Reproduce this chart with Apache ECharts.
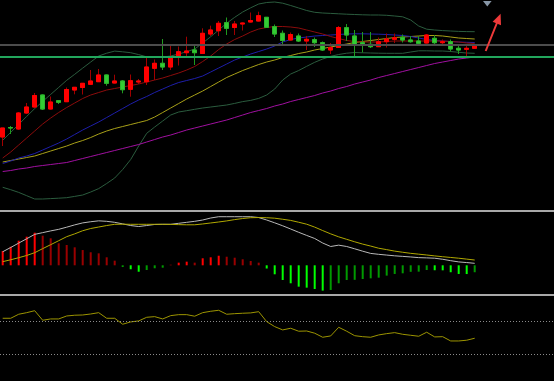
<!DOCTYPE html>
<html><head><meta charset="utf-8">
<script src="https://cdn.jsdelivr.net/npm/echarts@6/dist/echarts.min.js"></script>
<style>html,body{margin:0;padding:0;background:#000;overflow:hidden;}#c{width:554px;height:381px;}</style>
</head><body><div id="c"></div>
<script>
// ---- price panel (candles) ----
const opens = [16.30,17.25,17.10,18.70,19.30,20.50,19.10,19.93,19.83,21.00, 21.25,21.57,21.83,22.50,21.70,21.90,21.07,21.80,21.83,23.17, 23.67,23.30,24.33,24.73,25.00,24.65,26.60,26.93,27.73,27.25, 27.60,27.80,27.90,28.27,27.33,26.67,26.00,26.40,25.90,26.03, 25.73,25.00,25.25,27.23,26.40,25.73,25.57,25.33,25.83,26.07, 26.27,26.00,25.90,25.70,26.17,25.73,25.83,25.17,25.07,25.17];
const closes = [17.20,17.20,18.70,19.30,20.45,19.10,19.80,19.77,21.05,21.27, 21.67,21.90,22.50,21.67,21.90,21.03,21.93,21.90,23.30,23.67, 23.30,24.25,24.83,24.90,24.73,26.67,27.00,27.67,27.17,27.60, 27.70,27.95,28.43,27.27,26.60,25.95,26.55,25.90,26.07,25.73, 25.00,25.25,27.25,26.50,25.50,25.45,25.33,25.83,26.10,26.23, 26.00,25.83,25.67,26.50,25.73,25.83,25.10,25.00,25.17,25.50];
const lows = [15.40,16.60,17.00,18.60,19.25,19.00,19.05,19.60,19.80,20.57, 20.55,21.50,21.80,21.43,21.65,20.67,20.33,21.60,21.50,22.00, 23.00,23.00,23.45,24.20,23.50,24.60,26.40,26.40,26.50,26.50, 26.95,27.75,27.85,27.25,26.30,25.45,25.95,25.80,25.00,25.30, 24.90,24.60,25.20,25.90,24.20,24.75,25.20,25.30,25.25,25.70, 25.75,25.73,25.65,25.65,25.45,25.50,24.85,24.60,24.33,25.15];
const highs = [17.20,17.40,18.80,19.70,20.70,20.55,20.35,19.95,21.25,21.30, 21.70,23.00,23.10,22.55,22.53,22.00,22.55,22.10,24.20,24.05, 26.10,25.43,25.35,26.33,25.43,27.17,27.43,27.90,28.25,27.90, 27.75,28.75,28.83,28.30,27.55,26.95,26.75,26.65,26.40,26.25, 25.85,25.70,27.40,27.60,27.00,26.80,26.80,26.25,26.65,26.65, 26.55,26.40,26.40,26.60,26.50,26.05,26.05,25.50,25.50,25.55];

const bollUp = [15.97,16.76,17.56,18.36,19.14,19.86,20.56,21.26,21.97,22.57, 23.19,23.80,24.40,24.68,24.89,24.82,24.73,24.54,24.31,24.30, 24.30,24.40,24.60,24.83,25.10,25.70,26.33,27.00,27.68,28.27, 28.80,29.22,29.60,29.75,29.80,29.68,29.45,29.20,28.95,28.77, 28.70,28.66,28.62,28.58,28.55,28.52,28.50,28.50,28.47,28.40, 28.32,28.00,27.40,27.08,27.00,26.94,26.90,26.86,26.84,26.83];
const bollMid = [13.65,13.90,14.20,14.40,14.65,15.00,15.35,15.70,16.10,16.55, 17.00,17.40,17.80,18.25,18.70,19.15,19.60,20.00,20.35,20.75, 21.10,21.45,21.75,21.95,22.15,22.40,22.80,23.20,23.60,24.00, 24.30,24.60,24.85,25.10,25.40,25.80,26.05,26.20,26.30,26.40, 26.45,26.50,26.55,26.60,26.62,26.62,26.60,26.58,26.55,26.50, 26.45,26.35,26.20,26.05,25.95,25.90,25.85,25.80,25.77,25.75];
const bollLow = [11.27,11.03,10.76,10.43,10.10,10.10,10.14,10.18,10.23,10.36, 10.50,10.80,11.14,11.65,12.20,13.05,14.05,15.40,16.67,17.30, 17.90,18.50,18.80,18.93,19.07,19.20,19.30,19.40,19.50,19.66, 19.84,19.96,20.16,20.50,21.10,22.00,22.60,22.95,23.37,23.77, 24.10,24.37,24.55,24.68,24.75,24.72,24.70,24.68,24.67,24.67, 24.67,24.80,24.92,24.92,24.90,24.90,24.85,24.77,24.70,24.67];
const ma10 = [14.20,14.80,15.50,16.20,16.90,17.60,18.20,18.75,19.25,19.70, 20.15,20.50,20.75,21.00,21.15,21.30,21.45,21.60,21.80,22.00, 22.20,22.45,22.70,23.00,23.35,23.85,24.40,25.05,25.60,26.05, 26.40,26.80,27.10,27.25,27.35,27.35,27.30,27.20,27.00,26.80, 26.60,26.35,26.15,25.95,25.85,25.80,25.80,25.80,25.85,25.90, 25.90,25.90,25.90,25.90,25.90,25.90,25.85,25.80,25.70,25.65];
const ma30 = [13.80,13.95,14.10,14.25,14.40,14.65,14.90,15.15,15.40,15.70, 15.95,16.25,16.60,16.90,17.15,17.35,17.55,17.75,17.95,18.30, 18.75,19.20,19.65,20.10,20.50,20.90,21.35,21.80,22.25,22.60, 22.95,23.25,23.55,23.80,24.00,24.25,24.45,24.65,24.80,25.00, 25.15,25.30,25.45,25.60,25.75,25.85,25.95,26.05,26.15,26.25, 26.30,26.35,26.40,26.45,26.45,26.40,26.30,26.20,26.15,26.10];
const ma60 = [12.85,12.95,13.10,13.20,13.35,13.45,13.55,13.65,13.75,13.95, 14.15,14.35,14.55,14.75,14.95,15.15,15.35,15.55,15.80,16.05, 16.30,16.50,16.75,17.00,17.20,17.40,17.60,17.80,18.00,18.25, 18.50,18.75,18.95,19.15,19.40,19.60,19.85,20.05,20.25,20.45, 20.70,20.90,21.15,21.35,21.60,21.80,22.00,22.25,22.45,22.65, 22.85,23.05,23.25,23.45,23.65,23.80,23.95,24.10,24.20,24.30];
const grayLevel = 25.57;
const greenLevel = 24.33;

// ---- MACD panel ----
const macdHist = [17.3,22.5,29.8,34.7,39.5,35.9,32.7,26.7,24.6,21.8, 18.5,15.8,14.5,9.7,5.6,-2.1,-4.8,-7.8,-5.7,-3.6, -2.9,0.7,3.2,4.4,3.2,8.5,9.7,11.6,10.4,9.2, 7.3,5.2,3.2,-3.9,-10.9,-17.8,-21.8,-25.9,-27.1,-28.7, -30.7,-29.9,-21.8,-17.8,-17.6,-16.6,-15.8,-15.0,-12.5,-10.5, -9.7,-7.9,-7.7,-5.7,-6.0,-6.1,-8.4,-10.5,-10.6,-8.4];
const macdDif = [16.4,21.6,26.9,32.2,37.5,39.6,41.7,43.6,46.2,49.0, 51.4,52.8,53.9,53.3,52.1,50.2,48.2,47.0,48.2,49.5, 49.7,49.7,50.9,52.1,53.3,54.9,57.3,58.9,58.9,58.9, 58.9,58.9,57.9,54.9,51.5,47.9,44.0,40.0,36.2,32.5, 27.0,22.8,24.4,22.8,20.0,17.1,14.4,13.3,12.4,11.5, 10.8,10.1,9.3,9.0,8.6,7.3,5.6,4.1,3.3,2.4];
const macdDea = [4.4,6.7,9.2,11.9,15.3,20.2,25.0,29.8,34.7,38.1, 41.9,44.6,46.4,48.2,49.7,49.8,49.7,49.7,49.7,49.7, 49.7,49.6,49.3,49.1,49.1,50.1,51.3,52.5,53.8,55.4, 56.7,57.7,57.9,57.7,57.1,55.8,54.4,52.2,49.8,46.3, 42.1,38.1,34.5,31.5,28.5,25.7,23.3,20.7,19.0,17.2, 15.8,14.5,13.5,12.5,11.4,10.4,9.5,8.6,7.5,6.4];

// ---- lower oscillator panel ----
const rsi = [73.6,73.6,78.5,80.4,82.8,71.2,72.8,72.8,76.4,77.3, 77.6,78.8,80.4,73.6,73.6,66.4,69.2,70.4,74.8,75.6, 72.8,76.8,78.0,78.0,76.1,80.4,82.1,83.3,78.5,79.2, 79.7,80.1,81.6,69.5,63.5,59.5,61.5,57.9,58.2,55.5, 50.6,52.2,62.7,57.9,52.5,51.3,50.6,53.4,55.0,56.2, 54.2,53.0,51.8,56.7,51.0,51.3,46.1,46.1,47.0,49.4];
const rsiLevels = [70, 30];

// ---- build ----
const xy = arr => arr.map((v, i) => [i, v]);
const candleData = opens.map((o, i) => [i, o, closes[i], lows[i], highs[i]]);
const bodyData = opens.map((o, i) => [i, o, closes[i], Math.min(o, closes[i]), Math.max(o, closes[i])]);
const histData = macdHist.map((v, i) => {
  const grow = i === 0 || Math.abs(v) > Math.abs(macdHist[i - 1]);
  const color = v >= 0 ? (grow ? '#ff0000' : '#9a0000') : (grow ? '#00ff00' : '#009a00');
  return { value: [i, v], itemStyle: { color } };
});

const XMIN = -0.3375, XMAX = 68.9125;
const xAxes = [0, 1, 2].map(g => ({ type: 'value', gridIndex: g, min: XMIN, max: XMAX, show: false }));
const line = (name, data, color, g, w, z) => ({
  name, type: 'line', data: xy(data), xAxisIndex: g, yAxisIndex: g, showSymbol: false, symbol: 'none',
  lineStyle: { color, width: w || 1 }, z: z || 2, silent: true
});

const chart = echarts.init(document.getElementById('c'), null, { renderer: 'canvas' });
chart.setOption({
  animation: false,
  backgroundColor: '#000000',
  grid: [
    { left: 0, right: 0, top: 0, height: 210 },
    { left: 0, right: 0, top: 212.5, height: 82.5 },
    { left: 0, right: 0, top: 296.5, height: 82.5 }
  ],
  xAxis: xAxes,
  yAxis: [
    { type: 'value', gridIndex: 0, min: 9, max: 30, show: false },
    { type: 'value', gridIndex: 1, min: -36, max: 64, show: false },
    { type: 'value', gridIndex: 2, min: 0, max: 100, show: false }
  ],
  series: [
    line('BOLL-UP', bollUp, '#2b5c3e', 0),
    line('BOLL-LOW', bollLow, '#2b5c3e', 0),
    line('MA60', ma60, '#a010a0', 0),
    line('MA30', ma30, '#a8a018', 0),
    line('BOLL-MID', bollMid, '#1e1eaa', 0),
    line('MA10', ma10, '#8c0c0c', 0),
    {
      name: 'levels', type: 'line', data: [], xAxisIndex: 0, yAxisIndex: 0, z: 1,
      markLine: {
        silent: true, symbol: 'none', label: { show: false }, animation: false,
        data: [
          { yAxis: grayLevel, lineStyle: { color: '#4c4c4c', width: 2, type: 'solid' } },
          { yAxis: greenLevel, lineStyle: { color: '#22a65c', width: 2, type: 'solid' } }
        ]
      }
    },
    {
      name: 'K', type: 'candlestick', data: candleData, xAxisIndex: 0, yAxisIndex: 0, barWidth: 5, z: 3,
      itemStyle: { color: '#a00000', color0: '#1f9a1f', borderColor: '#a00000', borderColor0: '#1f9a1f', borderWidth: 1 }
    },
    {
      name: 'Kbody', type: 'candlestick', data: bodyData, xAxisIndex: 0, yAxisIndex: 0, barWidth: 5, z: 4,
      itemStyle: { color: '#ff0000', color0: '#33cc33', borderColor: '#ff0000', borderColor0: '#2cb52c', borderWidth: 1 }
    },
    {
      name: 'MACD', type: 'bar', data: histData, xAxisIndex: 1, yAxisIndex: 1, barWidth: 2, z: 2
    },
    line('DIF', macdDif, '#b8b8b8', 1, 1, 3),
    line('DEA', macdDea, '#b0a800', 1, 1, 3),
    Object.assign(line('RSI', rsi, '#9c9400', 2, 1, 3), {
      markLine: {
        silent: true, symbol: 'none', label: { show: false }, animation: false,
        lineStyle: { color: '#8a8a8a', width: 1, type: [1, 2] },
        data: rsiLevels.map(v => ({ yAxis: v }))
      }
    })
  ],
  graphic: [
    { type: 'line', shape: { x1: 0, y1: 211, x2: 554, y2: 211 }, style: { stroke: '#a8a8a8', lineWidth: 2 }, silent: true, z: 10 },
    { type: 'line', shape: { x1: 0, y1: 295, x2: 554, y2: 295 }, style: { stroke: '#a8a8a8', lineWidth: 2 }, silent: true, z: 10 },
    { type: 'polygon', shape: { points: [[483, 1], [491.6, 1], [487.3, 6.5]] }, style: { fill: '#8796a6' }, silent: true, z: 10 },
    { type: 'line', shape: { x1: 485.7, y1: 51, x2: 497.5, y2: 21.5 }, style: { stroke: '#ee3a3a', lineWidth: 2 }, silent: true, z: 10 },
    { type: 'polygon', shape: { points: [[500.6, 13.8], [501, 25.2], [492.6, 21.8]] }, style: { fill: '#ee3a3a' }, silent: true, z: 10 }
  ]
});
</script></body></html>
